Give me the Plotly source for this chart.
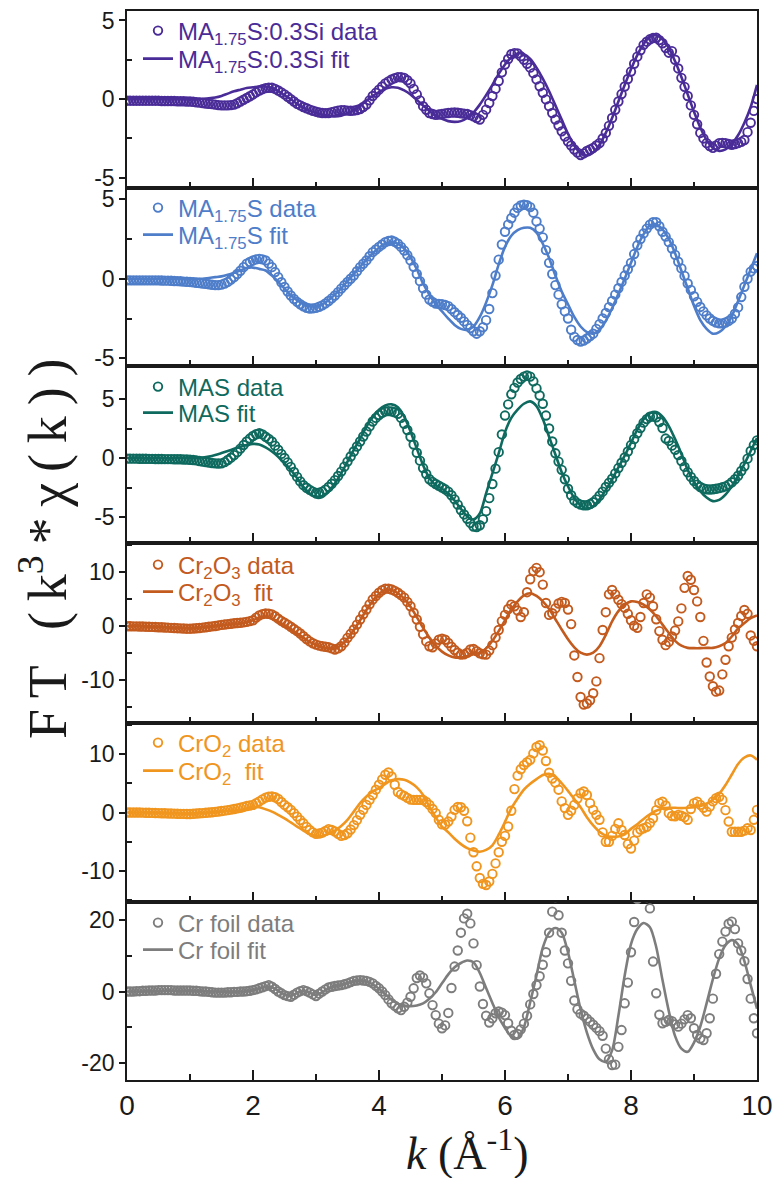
import plotly.graph_objects as go

# ---------------- data ----------------
k_data = [round(0.05 * i, 2) for i in range(201)]   # k grid of the measured data
k_fit = [round(0.1 * i, 1) for i in range(101)]     # k grid of the fits

ma175s03si_data = [
    -0.10, -0.10, -0.10, -0.10, -0.10, -0.10, -0.10, -0.10, -0.10, -0.10, -0.10, -0.12, -0.12, -0.12, -0.12, -0.12, -0.14, -0.14, -0.14, -0.15,
    -0.15, -0.17, -0.20, -0.22, -0.25, -0.28, -0.30, -0.32, -0.35, -0.38, -0.40, -0.40, -0.40, -0.38, -0.35, -0.26, -0.15, -0.04, 0.07, 0.18,
    0.30, 0.43, 0.55, 0.63, 0.70, 0.72, 0.72, 0.65, 0.55, 0.43, 0.30, 0.15, 0.00, -0.15, -0.30, -0.40, -0.50, -0.58, -0.67, -0.74,
    -0.80, -0.85, -0.88, -0.89, -0.88, -0.83, -0.78, -0.73, -0.70, -0.71, -0.73, -0.74, -0.73, -0.69, -0.63, -0.50, -0.35, -0.08, 0.20, 0.40,
    0.60, 0.80, 1.00, 1.13, 1.25, 1.33, 1.40, 1.39, 1.35, 1.20, 1.00, 0.65, 0.30, -0.08, -0.45, -0.68, -0.88, -0.95, -1.00, -0.98,
    -0.95, -0.91, -0.88, -0.86, -0.85, -0.87, -0.90, -0.92, -0.95, -1.02, -1.10, -1.20, -1.30, -1.00, -0.67, -0.25, 0.20, 0.65, 1.15, 1.70,
    2.20, 2.55, 2.85, 2.92, 2.90, 2.72, 2.50, 2.25, 2.00, 1.65, 1.25, 0.82, 0.40, -0.02, -0.45, -0.88, -1.30, -1.68, -2.05, -2.38,
    -2.70, -2.95, -3.20, -3.40, -3.55, -3.45, -3.30, -3.20, -3.10, -2.95, -2.80, -2.50, -2.15, -1.70, -1.20, -0.68, -0.15, 0.32, 0.80, 1.28,
    1.75, 2.25, 2.70, 3.10, 3.45, 3.65, 3.80, 3.88, 3.90, 3.75, 3.55, 3.25, 2.95, 3.05, 2.50, 1.95, 1.35, 0.78, 0.20, -0.40,
    -1.00, -1.60, -2.15, -2.50, -2.80, -2.98, -3.10, -2.95, -2.80, -2.78, -2.80, -2.85, -2.90, -2.85, -2.80, -2.72, -2.60, -2.10, -1.50, -0.75,
    0.00,
]
ma175s03si_fit = [
    0.0, 0.0, 0.0, 0.0, 0.0, 0.0, 0.0, 0.0, 0.0, 0.0,
    0.0, 0.0, 0.02, 0.05, 0.1, 0.2, 0.35, 0.5, 0.6, 0.7,
    0.75, 0.8, 0.8, 0.7, 0.5, 0.25, 0.0, -0.3, -0.55, -0.75,
    -0.9, -1.0, -1.05, -1.1, -1.05, -0.9, -0.7, -0.45, -0.1, 0.2,
    0.45, 0.65, 0.75, 0.72, 0.55, 0.3, -0.05, -0.4, -0.75, -1.05,
    -1.25, -1.4, -1.45, -1.4, -1.2, -0.85, -0.35, 0.25, 0.9, 1.6,
    2.2, 2.65, 2.9, 2.85, 2.55, 2.0, 1.3, 0.5, -0.4, -1.3,
    -2.2, -2.95, -3.45, -3.6, -3.4, -2.9, -2.15, -1.2, -0.15, 0.9,
    1.9, 2.8, 3.5, 3.95, 4.05, 3.8, 3.25, 2.4, 1.4, 0.3,
    -0.8, -1.8, -2.6, -3.1, -3.3, -3.2, -2.85, -2.3, -1.5, -0.5,
    0.9,
]

ma175s_data = [
    -0.10, -0.10, -0.10, -0.10, -0.10, -0.10, -0.10, -0.10, -0.10, -0.10, -0.10, -0.11, -0.12, -0.12, -0.13, -0.14, -0.15, -0.16, -0.18, -0.19,
    -0.20, -0.22, -0.25, -0.27, -0.30, -0.32, -0.35, -0.38, -0.40, -0.40, -0.37, -0.30, -0.20, -0.05, 0.10, 0.30, 0.50, 0.73, 0.95, 1.05,
    1.15, 1.22, 1.25, 1.22, 1.15, 0.95, 0.73, 0.42, 0.10, -0.22, -0.52, -0.80, -1.05, -1.27, -1.45, -1.60, -1.73, -1.82, -1.87, -1.86,
    -1.83, -1.76, -1.67, -1.55, -1.40, -1.23, -1.05, -0.84, -0.62, -0.41, -0.20, 0.00, 0.20, 0.47, 0.73, 0.94, 1.15, 1.41, 1.67, 1.84,
    2.00, 2.15, 2.30, 2.37, 2.40, 2.32, 2.20, 2.00, 1.77, 1.48, 1.15, 0.75, 0.30, -0.15, -0.60, -1.00, -1.30, -1.45, -1.56, -1.58,
    -1.60, -1.65, -1.72, -1.90, -2.10, -2.28, -2.45, -2.68, -2.90, -3.10, -3.30, -3.45, -3.30, -3.05, -2.60, -1.90, -0.90, 0.20, 1.20, 2.15,
    2.95, 3.40, 3.80, 4.15, 4.45, 4.60, 4.65, 4.62, 4.50, 4.15, 3.60, 3.15, 2.60, 1.80, 1.00, 0.30, -0.40, -1.00, -1.60, -2.05,
    -2.50, -3.20, -3.65, -3.85, -3.95, -3.88, -3.75, -3.60, -3.45, -3.15, -2.85, -2.50, -2.15, -1.78, -1.40, -1.00, -0.60, -0.20, 0.20, 0.60,
    1.00, 1.55, 2.10, 2.50, 2.85, 3.15, 3.40, 3.55, 3.55, 3.30, 2.95, 2.65, 2.30, 1.90, 1.50, 1.07, 0.65, 0.18, -0.30, -0.70,
    -1.10, -1.45, -1.77, -2.05, -2.30, -2.50, -2.65, -2.75, -2.80, -2.80, -2.75, -2.65, -2.50, -2.20, -1.80, -1.15, -0.50, 0.00, 0.45, 0.65,
    0.80,
]
ma175s_fit = [
    0.0, 0.0, 0.0, 0.0, 0.0, 0.0, 0.0, 0.0, 0.0, 0.0,
    0.0, 0.0, 0.0, 0.05, 0.1, 0.15, 0.25, 0.38, 0.52, 0.67,
    0.7, 0.62, 0.52, 0.2, -0.2, -0.62, -1.05, -1.35, -1.6, -1.73,
    -1.73, -1.6, -1.35, -1.0, -0.6, -0.15, 0.3, 0.75, 1.2, 1.6,
    1.95, 2.2, 2.3, 2.2, 1.9, 1.35, 0.6, -0.3, -1.0, -1.6,
    -2.05, -2.5, -2.9, -3.15, -3.2, -3.0, -2.4, -1.5, -0.4, 0.9,
    2.0, 2.7, 3.05, 3.2, 3.2, 2.9, 2.2, 1.3, 0.2, -0.8,
    -1.6, -2.4, -3.0, -3.35, -3.45, -3.2, -2.65, -1.85, -0.95, 0.0,
    1.0, 2.0, 2.8, 3.35, 3.4, 3.1, 2.5, 1.6, 0.5, -0.6,
    -1.7, -2.6, -3.15, -3.45, -3.35, -3.0, -2.35, -1.4, -0.4, 0.6,
    1.6,
]

mas_data = [
    -0.05, -0.05, -0.05, -0.05, -0.06, -0.06, -0.06, -0.07, -0.07, -0.08, -0.08, -0.08, -0.09, -0.09, -0.09, -0.10, -0.10, -0.10, -0.12, -0.13,
    -0.15, -0.17, -0.20, -0.25, -0.30, -0.34, -0.38, -0.42, -0.45, -0.46, -0.45, -0.35, -0.17, 0.03, 0.25, 0.50, 0.80, 1.10, 1.40, 1.65,
    1.87, 2.02, 2.10, 2.00, 1.80, 1.62, 1.40, 1.05, 0.70, 0.35, 0.00, -0.37, -0.75, -1.18, -1.60, -1.98, -2.30, -2.52, -2.70, -2.85,
    -2.95, -2.93, -2.85, -2.68, -2.45, -2.18, -1.87, -1.52, -1.15, -0.73, -0.30, 0.13, 0.55, 0.98, 1.40, 1.83, 2.25, 2.68, 3.10, 3.40,
    3.65, 3.83, 3.95, 3.98, 3.95, 3.88, 3.75, 3.40, 2.90, 2.38, 1.80, 1.15, 0.45, -0.22, -0.85, -1.35, -1.80, -2.02, -2.20, -2.35,
    -2.50, -2.65, -2.85, -3.15, -3.50, -3.95, -4.40, -4.78, -5.15, -5.50, -5.80, -5.85, -5.70, -5.20, -4.50, -3.40, -2.20, -0.90, 0.50, 2.00,
    3.60, 4.55, 5.40, 5.95, 6.40, 6.70, 6.90, 7.00, 6.90, 6.50, 5.90, 5.30, 4.60, 3.60, 2.50, 1.40, 0.40, -0.30, -1.00, -1.80,
    -2.60, -3.15, -3.60, -3.82, -3.95, -4.00, -4.00, -3.90, -3.75, -3.50, -3.20, -2.85, -2.45, -2.10, -1.75, -1.30, -0.85, -0.40, 0.05, 0.55,
    1.10, 1.60, 2.10, 2.55, 3.00, 3.30, 3.50, 3.52, 3.45, 3.05, 2.55, 1.65, 1.45, 1.05, 0.70, 0.25, -0.25, -0.75, -1.20, -1.60,
    -1.95, -2.25, -2.45, -2.58, -2.65, -2.67, -2.65, -2.60, -2.55, -2.48, -2.40, -2.25, -2.05, -1.80, -1.50, -1.10, -0.70, -0.05, 0.60, 1.10,
    1.50,
]
mas_fit = [
    0.0, 0.0, 0.0, 0.0, 0.0, 0.0, 0.0, 0.0, 0.0, 0.0,
    0.0, 0.02, 0.05, 0.12, 0.25, 0.42, 0.6, 0.78, 0.95, 1.1,
    1.2, 1.15, 0.9, 0.55, 0.1, -0.45, -1.0, -1.7, -2.45, -3.0,
    -3.35, -3.3, -2.85, -2.15, -1.3, -0.3, 0.7, 1.65, 2.65, 3.5,
    4.1, 4.45, 4.55, 4.3, 3.5, 2.25, 0.8, -0.6, -1.7, -2.3,
    -2.6, -3.0, -3.6, -4.3, -4.95, -5.2, -4.7, -3.0, -1.3, 0.4,
    2.2, 3.4, 4.1, 4.6, 4.8, 4.4, 3.3, 1.8, 0.3, -1.2,
    -2.4, -3.4, -4.0, -4.3, -4.1, -3.5, -2.7, -1.8, -0.8, 0.2,
    1.3, 2.4, 3.3, 3.8, 3.9, 3.5, 2.7, 1.6, 0.35, -1.0,
    -2.0, -2.8, -3.35, -3.65, -3.55, -3.1, -2.4, -1.5, -0.5, 0.6,
    1.7,
]

cr2o3_data = [
    -0.10, -0.10, -0.12, -0.12, -0.15, -0.15, -0.18, -0.20, -0.22, -0.25, -0.28, -0.30, -0.33, -0.36, -0.40, -0.43, -0.46, -0.50, -0.52, -0.55,
    -0.55, -0.52, -0.48, -0.42, -0.35, -0.28, -0.20, -0.12, -0.05, 0.05, 0.15, 0.22, 0.30, 0.37, 0.45, 0.50, 0.55, 0.62, 0.70, 0.85,
    1.00, 1.50, 1.90, 2.15, 2.25, 2.22, 2.10, 1.75, 1.30, 0.90, 0.55, 0.20, -0.20, -0.60, -1.00, -1.45, -1.95, -2.45, -2.90, -3.25,
    -3.50, -3.68, -3.80, -3.90, -4.00, -4.20, -4.40, -4.20, -3.80, -3.10, -2.25, -1.50, -0.70, 0.20, 1.15, 2.10, 3.00, 3.95, 4.85, 5.50,
    6.10, 6.55, 6.85, 6.85, 6.70, 6.45, 6.10, 5.65, 5.20, 4.40, 3.60, 2.40, 1.15, -0.20, -1.60, -2.90, -3.80, -4.00, -3.30, -2.60,
    -2.40, -2.60, -3.20, -3.90, -4.50, -5.00, -5.35, -5.30, -5.00, -4.40, -4.30, -4.70, -5.10, -5.30, -5.35, -4.60, -3.60, -2.20, -0.80, 0.85,
    2.00, 3.10, 3.90, 3.60, 2.80, 1.60, 2.50, 6.20, 8.60, 10.10, 10.70, 9.90, 7.60, 4.20, 2.00, 2.30, 3.20, 4.10, 4.40, 4.20,
    3.00, 0.30, -5.50, -9.50, -13.20, -14.60, -14.40, -13.80, -12.50, -10.30, -6.00, -0.80, 2.50, 5.80, 6.60, 5.80, 4.80, 4.00, 3.30, 2.20,
    1.00, 0.00, -0.40, 1.60, 4.20, 5.80, 5.20, 3.60, 1.20, -1.00, -2.60, -3.60, -3.00, -2.00, -0.90, 0.80, 3.20, 7.00, 9.20, 8.50,
    6.60, 4.50, 1.60, -2.80, -6.80, -9.40, -11.20, -12.20, -12.00, -9.00, -6.30, -3.80, -2.20, -0.70, 0.50, 1.80, 2.90, 2.20, -1.80, -2.80,
    -3.80,
]
cr2o3_fit = [
    -0.1, -0.1, -0.1, -0.15, -0.2, -0.25, -0.3, -0.35, -0.4, -0.45,
    -0.45, -0.4, -0.3, -0.2, -0.05, 0.1, 0.2, 0.3, 0.45, 0.65,
    1.0, 1.5, 1.6, 1.3, 0.8, 0.1, -0.6, -1.4, -2.2, -3.0,
    -3.6, -4.0, -4.2, -4.2, -3.6, -2.4, -0.8, 1.0, 2.9, 4.6,
    5.9, 6.6, 6.6, 6.0, 5.0, 3.5, 1.6, -0.4, -2.2, -3.7,
    -4.8, -5.5, -5.9, -5.9, -5.6, -5.3, -5.0, -4.2, -2.8, -1.0,
    1.0, 3.0, 4.5, 5.6, 6.0, 5.5, 4.5, 3.1, 1.2, -0.7,
    -2.5, -4.0, -5.0, -5.35, -5.0, -3.8, -1.7, 0.8, 2.7, 3.9,
    4.5, 4.4, 3.9, 3.0, 1.75, 0.2, -1.35, -2.8, -3.7, -4.1,
    -4.15, -4.15, -4.1, -4.1, -3.8, -3.2, -2.0, -0.5, 0.5, 1.4,
    1.9,
]

cro2_data = [
    0.00, 0.00, 0.00, 0.00, 0.00, -0.02, -0.04, -0.05, -0.06, -0.08, -0.10, -0.12, -0.14, -0.16, -0.18, -0.20, -0.22, -0.23, -0.24, -0.25,
    -0.25, -0.22, -0.18, -0.14, -0.10, -0.05, 0.00, 0.05, 0.10, 0.17, 0.25, 0.32, 0.40, 0.50, 0.60, 0.70, 0.80, 0.95, 1.10, 1.20,
    1.30, 1.60, 1.90, 2.25, 2.55, 2.70, 2.75, 2.60, 2.30, 1.80, 1.30, 0.90, 0.45, -0.10, -0.70, -1.30, -1.85, -2.45, -3.00, -3.40,
    -3.65, -3.60, -3.45, -3.15, -2.85, -3.00, -3.25, -3.65, -4.00, -3.85, -3.55, -2.90, -2.15, -1.30, -0.40, 0.45, 1.30, 2.15, 3.00, 3.90,
    4.75, 5.65, 6.45, 6.85, 6.15, 4.75, 3.50, 3.10, 2.85, 2.50, 2.20, 2.15, 2.15, 2.15, 2.15, 1.80, 1.30, 0.60, -0.10, -1.25,
    -2.00, -2.05, -1.55, -0.70, 0.45, 0.95, 0.90, 0.30, -1.50, -4.30, -6.80, -9.20, -11.20, -12.20, -12.40, -11.80, -10.50, -8.70, -6.80, -5.00,
    -4.00, -2.40, 0.30, 4.00, 6.30, 7.40, 8.10, 8.60, 9.00, 10.10, 11.20, 11.50, 10.60, 8.80, 6.80, 5.80, 5.10, 3.90, 1.90, 0.75,
    -0.40, 0.30, 1.30, 2.40, 3.30, 3.60, 3.00, 1.60, 0.45, -0.40, -1.25, -3.40, -5.00, -5.00, -4.00, -2.80, -1.85, -3.00, -3.85, -5.40,
    -6.15, -4.80, -3.40, -2.90, -2.70, -2.45, -1.80, -1.00, 0.40, 1.60, 1.85, 1.20, -0.10, -0.60, -0.65, -0.40, -0.55, -0.80, -1.25, 0.60,
    1.60, 1.85, 1.30, 0.80, 0.15, 1.00, 1.90, 2.45, 2.70, 2.15, 0.40, -1.55, -3.30, -3.30, -3.30, -3.30, -3.10, -2.70, -3.00, -1.25,
    0.45,
]
cro2_fit = [
    0.0, 0.0, 0.0, 0.0, 0.0, -0.05, -0.1, -0.1, -0.15, -0.2,
    -0.2, -0.15, -0.1, 0.0, 0.1, 0.2, 0.25, 0.3, 0.4, 0.6,
    1.0, 0.9, 0.55, 0.15, -0.4, -1.0, -1.7, -2.4, -3.1, -3.65,
    -4.0, -4.0, -3.65, -3.1, -2.3, -1.25, 0.15, 1.6, 2.75, 3.6,
    4.15, 4.9, 5.5, 5.7, 5.6, 5.1, 4.3, 3.0, 1.0, -0.8,
    -2.4, -3.4, -4.5, -5.4, -6.1, -6.5, -6.7, -6.4, -5.6, -3.8,
    -1.6, 0.7, 2.4, 3.9, 4.9, 5.7, 6.4, 6.6, 6.1, 5.0,
    3.7, 2.3, 0.9, -0.8, -2.2, -3.3, -3.95, -4.15, -4.1, -3.75,
    -2.8, -2.0, -1.1, -0.3, 0.3, 0.7, 0.8, 0.8, 0.75, 0.8,
    0.9, 1.1, 1.5, 2.2, 3.2, 4.7, 6.5, 8.3, 9.4, 9.75,
    9.0,
]

crfoil_data = [
    0.0, 0.0, 0.0, 0.1, 0.1, 0.2, 0.2, 0.3, 0.3, 0.3, 0.4, 0.4, 0.4, 0.4, 0.4, 0.3, 0.3, 0.3, 0.3, 0.3,
    0.3, 0.2, 0.2, 0.1, 0.0, 0.0, -0.1, -0.2, -0.3, -0.3, -0.3, -0.3, -0.2, -0.2, -0.1, -0.1, 0.0, 0.0, 0.1, 0.2,
    0.4, 0.6, 0.9, 1.2, 1.5, 1.8, 1.35, 0.7, 0.0, -0.5, -1.0, -1.3, -1.45, -0.9, -0.3, 0.1, 0.4, 0.1, -0.3, -0.8,
    -1.25, -0.6, 0.0, 0.6, 1.15, 1.35, 1.55, 1.7, 1.8, 2.05, 2.3, 2.65, 3.0, 3.1, 3.2, 3.1, 3.0, 2.7, 2.3, 1.6,
    0.9, 0.0, -1.0, -2.2, -3.3, -4.0, -4.7, -5.2, -4.25, -3.1, -1.45, 0.9, 3.8, 4.5, 3.9, 2.3, -0.5, -3.8, -6.6, -9.0,
    -10.3, -9.5, -6.0, 1.0, 7.0, 11.5, 16.5, 20.5, 21.8, 19.1, 13.5, 7.4, 1.4, -3.5, -6.8, -8.7, -7.5, -6.1, -5.6, -5.9,
    -6.6, -8.9, -11.0, -12.2, -11.9, -10.6, -9.0, -6.8, -3.6, -0.7, 1.8, 4.3, 7.5, 11.0, 16.5, 22.4, 26.5, 21.4, 16.5, 11.5,
    7.9, 3.0, -2.5, -5.0, -6.2, -6.8, -7.6, -8.45, -9.3, -10.2, -11.1, -12.4, -16.0, -19.0, -20.6, -20.5, -15.5, -10.8, -3.3, 2.5,
    11.0, 19.5, 26.0, 28.0, 28.0, 26.5, 23.3, 8.4, -0.5, -6.5, -8.9, -8.5, -8.0, -8.3, -9.2, -9.85, -9.0, -7.8, -6.6, -7.5,
    -10.3, -12.2, -13.2, -13.6, -11.7, -7.5, -2.0, 5.0, 10.5, 14.0, 16.8, 19.0, 19.6, 17.5, 13.5, 11.5, 8.5, 3.5, -2.0, -7.5,
    -11.7,
]
crfoil_fit = [
    0.0, 0.0, 0.0, 0.05, 0.1, 0.15, 0.2, 0.2, 0.2, 0.2,
    0.2, 0.15, 0.1, 0.05, 0.0, -0.05, -0.1, -0.05, 0.0, 0.1,
    0.4, 0.8, 1.3, 1.2, 0.2, -0.8, -1.2, -0.4, 0.2, -0.3,
    -1.0, -0.2, 0.9, 1.5, 1.9, 2.4, 2.9, 3.1, 2.8, 2.0,
    0.8, -0.8, -2.3, -3.4, -3.9, -4.1, -3.9, -3.3, -2.0, -0.2,
    2.3, 4.8, 6.8, 8.0, 8.7, 8.2, 5.2, 1.0, -3.2, -7.2,
    -10.2, -12.6, -13.2, -10.0, -3.0, 4.5, 12.3, 16.5, 17.8, 16.5,
    11.0, 3.0, -5.0, -11.5, -16.2, -19.0, -19.7, -16.5, -6.8, 4.5,
    13.3, 17.5, 19.2, 18.0, 12.5, 3.2, -5.5, -12.5, -16.0, -16.9,
    -14.3, -9.8, -3.3, 3.5, 9.3, 13.0, 14.4, 13.2, 8.5, 1.8,
    -4.8,
]

series_names = [
    ("MA<sub>1.75</sub>S:0.3Si data", "MA<sub>1.75</sub>S:0.3Si fit"),
    ("MA<sub>1.75</sub>S data", "MA<sub>1.75</sub>S fit"),
    ("MAS data", "MAS fit"),
    ("Cr<sub>2</sub>O<sub>3</sub> data", "Cr<sub>2</sub>O<sub>3</sub>&nbsp; fit"),
    ("CrO<sub>2</sub> data", "CrO<sub>2</sub>&nbsp; fit"),
    ("Cr foil data", "Cr foil fit"),
]
series_colors = ["#4a2c98", "#4e7dc9", "#0e6a5e", "#c35a1e", "#f0951e", "#7d7d7d"]
y_ranges = [[-5.65, 5.6], [-5.48, 5.7], [-7.2, 7.8], [-18.0, 15.3], [-15.3, 15.3], [-24.8, 25.1]]
y_major = [[-5, 0, 5], [-5, 0, 5], [-5, 0, 5], [-10, 0, 10], [-10, 0, 10], [-20, 0, 20]]
y_minor = [[-2.5, 2.5], [-2.5, 2.5], [-2.5, 2.5], [-15, -5, 5, 15], [-15, -5, 5, 15], [-10, 10]]
x_major = [0, 2, 4, 6, 8, 10]
x_minor = [1, 3, 5, 7, 9]

all_data = [ma175s03si_data, ma175s_data, mas_data, cr2o3_data, cro2_data, crfoil_data]
all_fit = [ma175s03si_fit, ma175s_fit, mas_fit, cr2o3_fit, cro2_fit, crfoil_fit]

for d in all_data:
    if len(d) != len(k_data):
        raise ValueError("data length %d" % len(d))
for f in all_fit:
    if len(f) != len(k_fit):
        raise ValueError("fit length %d" % len(f))

# ---------------- layout geometry ----------------
W, H = 774, 1178
ML, MR, MT, MB = 127, 17, 11, 98
PH = H - MT - MB
PW = W - ML - MR
panel_px = [11, 188, 366, 543, 723, 902, 1080]   # panel borders (px from top)
legend_rows_px = [(31, 59), (208, 235), (387, 413), (565, 592), (743, 771), (923, 950)]

SANS = "Liberation Sans, Arial, Helvetica, sans-serif"
SERIF = "Liberation Serif, Times New Roman, Times, serif"
AXC = "#1a1a1a"


def py(px):
    return (H - MB - px) / PH


def pxx(px):
    return (px - ML) / PW


fig = go.Figure()
layout = dict(
    width=W, height=H,
    margin=dict(l=ML, r=MR, t=MT, b=MB, pad=0, autoexpand=False),
    paper_bgcolor="white", plot_bgcolor="white",
    font=dict(family=SANS, color=AXC),
    showlegend=True,
)

for i in range(6):
    s = "" if i == 0 else str(i + 1)
    lg_d = "legend" if i == 0 else "legend%d" % (2 * i + 1)
    lg_f = "legend%d" % (2 * i + 2)
    c = series_colors[i]
    fig.add_trace(go.Scatter(
        x=k_data, y=all_data[i], mode="markers", name=series_names[i][0],
        marker=dict(symbol="circle-open", size=8.5, color=c, line=dict(width=1.9, color=c)),
        xaxis="x" + s, yaxis="y" + s, legend=lg_d, cliponaxis=True,
    ))
    fig.add_trace(go.Scatter(
        x=k_fit, y=all_fit[i], mode="lines", name=series_names[i][1],
        line=dict(color=c, width=2.6, shape="spline", smoothing=0.8),
        xaxis="x" + s, yaxis="y" + s, legend=lg_f,
    ))
    dom = [py(panel_px[i + 1]), py(panel_px[i])]
    layout["xaxis" + s] = dict(
        domain=[0, 1], range=[0, 10], anchor="y" + s,
        showline=True, mirror=True, linecolor=AXC, linewidth=1.6,
        ticks="inside", ticklen=10, tickwidth=1.6, tickcolor=AXC,
        tickmode="array", tickvals=x_major, ticktext=[str(v) for v in x_major],
        minor=dict(ticks="inside", ticklen=6, tickwidth=1.6, tickcolor=AXC,
                   tickmode="array", tickvals=x_minor),
        showticklabels=(i == 5),
        tickfont=dict(family=SANS, size=28, color=AXC),
        showgrid=False, zeroline=False,
    )
    layout["yaxis" + s] = dict(
        domain=dom, range=y_ranges[i], anchor="x" + s,
        showline=True, mirror=True, linecolor=AXC, linewidth=1.6,
        ticks="outside", ticklen=6, tickwidth=1.6, tickcolor=AXC,
        tickmode="array", tickvals=y_major[i], ticktext=[str(v) for v in y_major[i]],
        minor=dict(ticks="inside", ticklen=5, tickwidth=1.6, tickcolor=AXC,
                   tickmode="array", tickvals=y_minor[i]),
        tickfont=dict(family=SANS, size=23, color=AXC),
        showgrid=False, zeroline=False,
    )
    for lg, row_y in ((lg_d, legend_rows_px[i][0]), (lg_f, legend_rows_px[i][1])):
        layout[lg] = dict(
            x=pxx(138), y=py(row_y),
            xanchor="left", yanchor="middle",
            bgcolor="rgba(0,0,0,0)", borderwidth=0,
            font=dict(family=SANS, size=24, color=c),
            tracegroupgap=0, itemwidth=30,
        )

TS = "\u2009"  # thin space used to widen the serif axis title
ytitle = TS.join(["F", "T", " ", "(", "k<sup>3</sup>", "*", "χ", "(", "k", ")", ")"])
layout["annotations"] = [
    dict(text=ytitle, xref="paper", yref="paper",
         x=pxx(43), y=py(549), xanchor="center", yanchor="middle",
         textangle=-90, showarrow=False, font=dict(family=SERIF, size=54, color=AXC)),
    dict(text="<i>k</i> (Å<sup>-1</sup>)", xref="paper", yref="paper",
         x=pxx(467), y=py(1150), xanchor="center", yanchor="middle",
         showarrow=False, font=dict(family=SERIF, size=46, color=AXC)),
]

fig.update_layout(**layout)
fig.write_html("out.html")
